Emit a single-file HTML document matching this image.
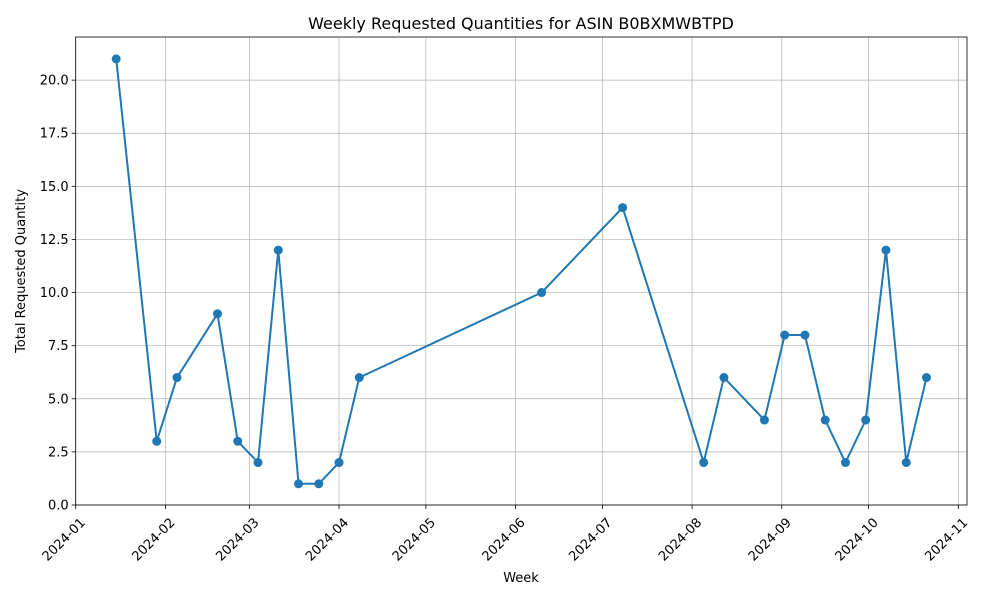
<!DOCTYPE html>
<html><head><meta charset="utf-8"><style>
body{margin:0;background:#fff;}
svg text{font-family:"DejaVu Sans","Liberation Sans",sans-serif;fill:#000;}
</style></head><body>
<svg id="chart" width="1000" height="600" xmlns="http://www.w3.org/2000/svg">
<rect x="0" y="0" width="1000" height="600" fill="#fff"/>
<text x="521" y="29" font-size="16" text-anchor="middle">Weekly Requested Quantities for ASIN B0BXMWBTPD</text>
<g id="grid"></g><g id="axes"></g><g id="series"></g>
<text x="521" y="582" font-size="13" text-anchor="middle">Week</text>
<text transform="translate(25,271) rotate(-90)" font-size="13" text-anchor="middle">Total Requested Quantity</text>
</svg>
<script>
const dates=["2024-01-15","2024-01-29","2024-02-05","2024-02-19","2024-02-26","2024-03-04","2024-03-11","2024-03-18","2024-03-25","2024-04-01","2024-04-08","2024-06-10","2024-07-08","2024-08-05","2024-08-12","2024-08-26","2024-09-02","2024-09-09","2024-09-16","2024-09-23","2024-09-30","2024-10-07","2024-10-14","2024-10-21"];
const values=[21,3,6,9,3,2,12,1,1,2,6,10,14,2,6,4,8,8,4,2,4,12,2,6];
const xTicks=["2024-01","2024-02","2024-03","2024-04","2024-05","2024-06","2024-07","2024-08","2024-09","2024-10","2024-11"];
const yTicks=[0,2.5,5,7.5,10,12.5,15,17.5,20];
const NS="http://www.w3.org/2000/svg";
const L=75.7,R=967,T=37,B=505;
const d0=Date.parse("2024-01-01"),d1=Date.parse("2024-11-04");
const yMax=22.03;
function xs(s){const t=Date.parse(s.length===7?s+"-01":s);return L+(t-d0)/(d1-d0)*(R-L);}
function ys(v){return B-v/yMax*(B-T);}
function mk(tag,attrs,parent){const e=document.createElementNS(NS,tag);for(const k in attrs)e.setAttribute(k,attrs[k]);parent.appendChild(e);return e;}
const grid=document.getElementById('grid'),axes=document.getElementById('axes'),ser=document.getElementById('series');
xTicks.forEach(t=>{const x=xs(t);
 const g=mk('line',{x1:x,x2:x,y1:T,y2:B,stroke:'#b0b0b0','stroke-width':0.7},grid);
 
 
 mk('line',{x1:x,x2:x,y1:B,y2:B+4,stroke:'#000','stroke-width':0.8},axes);
 const tx=mk('text',{transform:`translate(${x+4},${B+12}) rotate(-45)`,'font-size':13,'text-anchor':'end','dominant-baseline':'hanging'},axes);
 tx.textContent=t;
 
 
});
yTicks.forEach(v=>{const y=ys(v);
 const g=mk('line',{x1:L,x2:R,y1:y,y2:y,stroke:'#b0b0b0','stroke-width':0.7},grid);
 
 
 mk('line',{x1:L-4,x2:L,y1:y,y2:y,stroke:'#000','stroke-width':0.8},axes);
 const tx=mk('text',{x:L-7,y:y+4.5,'font-size':13,'text-anchor':'end'},axes);
 tx.textContent=v.toFixed(1);
 
 
});
const fr=mk('rect',{x:L,y:T,width:R-L,height:B-T,fill:'none',stroke:'#000','stroke-width':0.8},axes);


const pts=dates.map((d,i)=>xs(d)+','+ys(values[i])).join(' ');
const pl=mk('polyline',{points:pts,fill:'none',stroke:'#1f77b4','stroke-width':2},ser);


dates.forEach((d,i)=>{const c=mk('circle',{cx:xs(d),cy:ys(values[i]),r:4.5,fill:'#1f77b4'},ser);
 
 
});
</script>
</body></html>
